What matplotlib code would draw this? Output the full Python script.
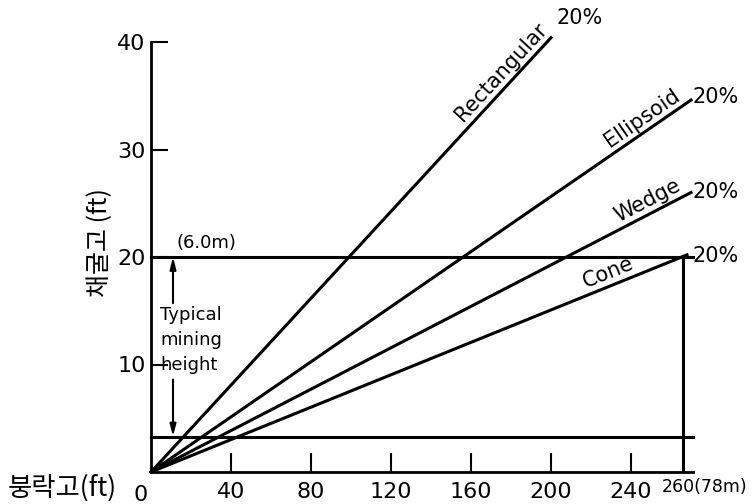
import numpy as np
import matplotlib
matplotlib.use('Agg')
import matplotlib.pyplot as plt

plt.rcParams['font.family'] = ['DejaVu Sans', 'Noto Sans CJK KR']

# data
shapes = ['Rectangular', 'Ellipsoid', 'Wedge', 'Cone']
end_x = [200, 270, 270, 268]
end_y = [40.4, 34.6, 26.0, 20.2]
label_x = [180, 249, 251, 231]
pct_text = '20%'

x_ticks = [40, 80, 120, 160, 200, 240]
y_ticks = [10, 20, 30, 40]
x_end = 266          # where "260" is drawn
x_end_label = '260(78m)'
typical_top = 20.0   # 6.0 m
typical_bottom = 3.3 # 1.0 m

# layout
W, H = 755, 504
fig = plt.figure(figsize=(W / 100, H / 100), dpi=100)
ax = fig.add_axes([151 / W, 32 / H, (693 - 151) / W, (472 - 42) / H])
ax.set_xlim(0, 271)
ax.set_ylim(0, 40)

for s in ['top', 'right']:
    ax.spines[s].set_visible(False)
for s in ['left', 'bottom']:
    ax.spines[s].set_linewidth(2)

ax.set_xticks(x_ticks)
ax.set_xticklabels([str(v) for v in x_ticks])
ax.set_yticks(y_ticks)
ax.set_yticklabels([str(v) for v in y_ticks])
ax.tick_params(axis='x', direction='in', length=14, width=1.5, pad=7, labelsize=16)
ax.tick_params(axis='y', direction='in', length=12, width=1.5, pad=4, labelsize=16)

ax.text(-5, -1.2, '0', ha='center', va='top', fontsize=16, clip_on=False)
ax.text(255.5, -0.6, x_end_label, ha='left', va='top', fontsize=12.5, clip_on=False)

# reference lines
ax.plot([0, 271], [typical_top, typical_top], color='black', lw=2.2, clip_on=False)
ax.plot([0, 271], [typical_bottom, typical_bottom], color='black', lw=2.2, clip_on=False)
ax.plot([x_end, x_end], [0, typical_top], color='black', lw=2.2)

# shape lines
for name, ex, ey, lx, in zip(shapes, end_x, end_y, label_x):
    ax.plot([0, ex], [0, ey], color='black', lw=2.2, clip_on=False)
    p0 = ax.transData.transform((0, 0))
    p1 = ax.transData.transform((ex, ey))
    ang = np.arctan2(p1[1] - p0[1], p1[0] - p0[0])
    anchor = ax.transData.transform((lx, ey / ex * lx))
    anchor = anchor + 3 * np.array([-np.sin(ang), np.cos(ang)])
    ax_pt = ax.transData.inverted().transform(anchor)
    ax.text(ax_pt[0], ax_pt[1], name, rotation=np.degrees(ang),
            rotation_mode='anchor', ha='center', va='bottom', fontsize=15)

pct_offsets = [(4, 14), (1, 2), (1, 0), (4, -1)]
for ex, ey, off in zip(end_x, end_y, pct_offsets):
    ax.annotate(pct_text, (ex, ey), xytext=off, textcoords='offset points',
                ha='left', va='center', fontsize=15, annotation_clip=False)

# typical mining height arrows
arrow = dict(arrowstyle='-|>,head_width=0.18,head_length=0.7', color='black',
             lw=1.5, shrinkA=0, shrinkB=0)
ax.annotate('', xy=(11, typical_top), xytext=(11, 15.7), arrowprops=arrow)
ax.annotate('', xy=(11, typical_bottom), xytext=(11, 8.6), arrowprops=arrow)
ax.text(4.5, 15.4, 'Typical\nmining\nheight', ha='left', va='top', fontsize=13,
        linespacing=1.5)
ax.text(13, 20.5, '(6.0m)', ha='left', va='bottom', fontsize=13)

# axis labels
fig.text(100 / W, 1 - 243 / H, '채굴고 (ft)', rotation=90, ha='center', va='center',
         fontsize=18, family=['Noto Sans CJK KR', 'DejaVu Sans'])
fig.text(8 / W, 1 - 488 / H, '붕락고(ft)', ha='left', va='center',
         fontsize=19, family=['Noto Sans CJK KR', 'DejaVu Sans'])

fig.savefig('out.png', dpi=100)
